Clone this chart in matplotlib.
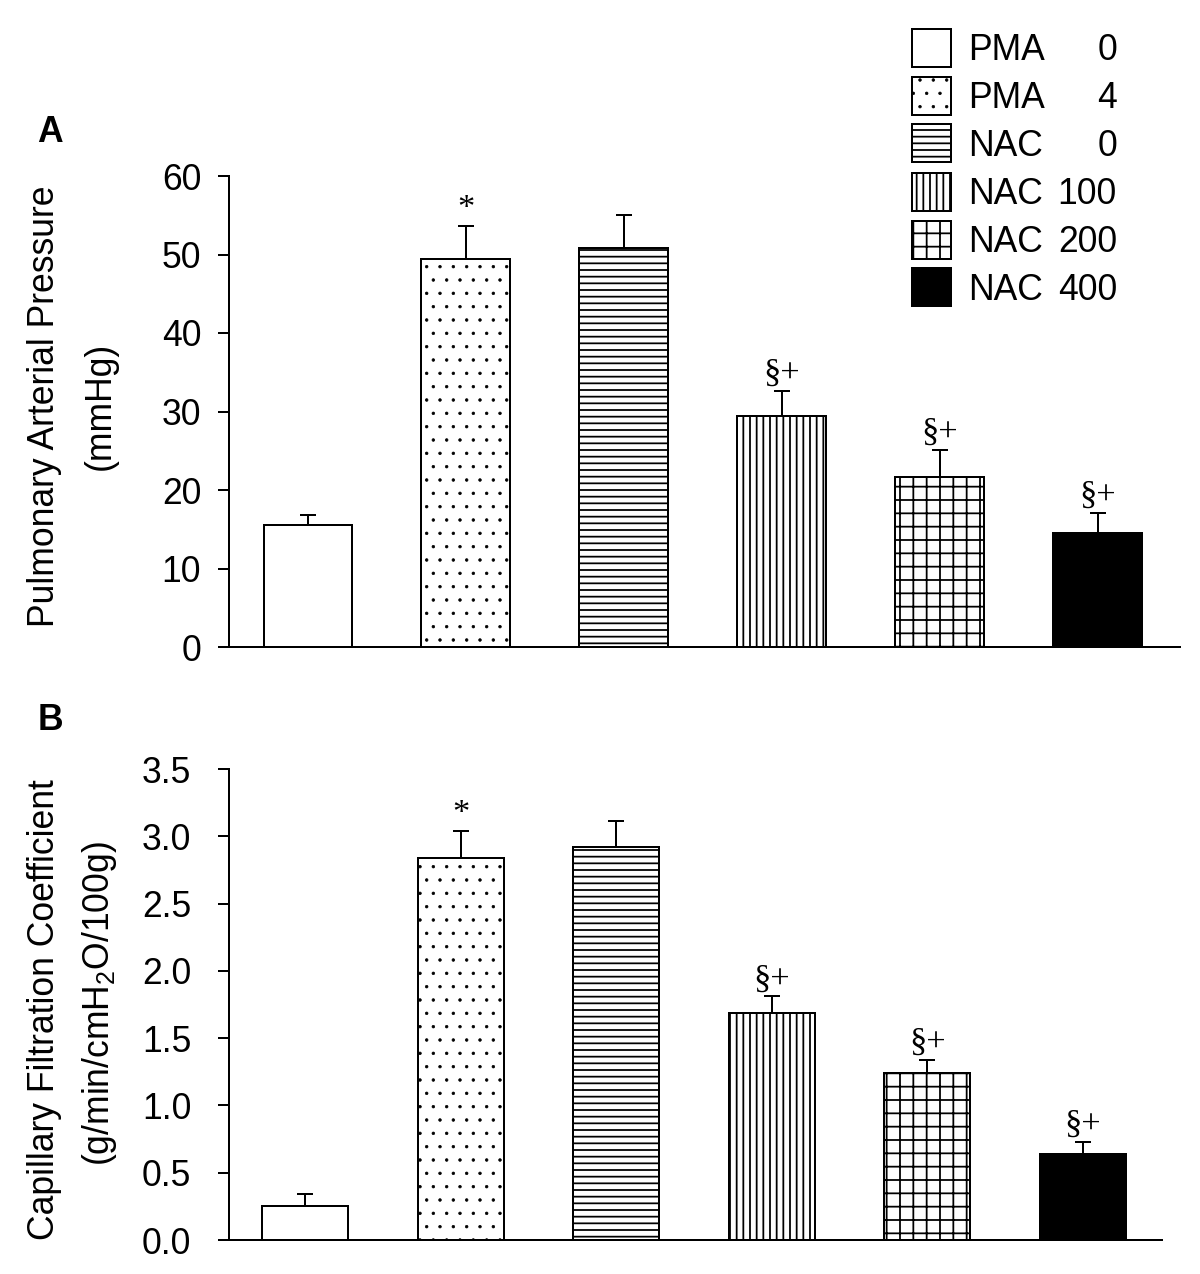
import matplotlib
matplotlib.use("Agg")
import matplotlib.pyplot as plt
from matplotlib.patches import Rectangle
import numpy as np

plt.rcParams['font.family'] = ['Liberation Sans', 'DejaVu Sans']
plt.rcParams['mathtext.fontset'] = 'custom'
plt.rcParams['mathtext.rm'] = 'Liberation Sans'
plt.rcParams['mathtext.it'] = 'Liberation Sans:italic'
plt.rcParams['hatch.linewidth'] = 1.6

# ---- data ----
groups = ["PMA", "PMA", "NAC", "NAC", "NAC", "NAC"]
doses = ["0", "4", "0", "100", "200", "400"]
pap_mean = [15.5, 49.4, 50.8, 29.4, 21.7, 14.5]
pap_sem = [1.3, 4.2, 4.2, 3.2, 3.4, 2.6]
kfc_mean = [0.25, 2.84, 2.92, 1.69, 1.24, 0.64]
kfc_sem = [0.09, 0.20, 0.19, 0.12, 0.10, 0.09]
pap_marks = ["", "*", "", "§+", "§+", "§+"]
kfc_marks = ["", "*", "", "§+", "§+", "§+"]
pap_ticks = [0, 10, 20, 30, 40, 50, 60]
kfc_ticks = [0.0, 0.5, 1.0, 1.5, 2.0, 2.5, 3.0, 3.5]

# ---- styles ----
faces = ["white", "white", "white", "white", "white", "black"]
hatches = [None, ".", "--", "||", "+", None]
hatch_lw = [1.6, 0.6, 1.6, 1.6, 1.6, 1.6]

W, H = 1200, 1274
DPI = 80
fig = plt.figure(figsize=(W / DPI, H / DPI), dpi=DPI)

FS = 32

def px_axes(l, t, r, b):
    return fig.add_axes([l / W, 1 - b / H, (r - l) / W, (b - t) / H])

axA = px_axes(229, 176, 1180, 647)
axB = px_axes(229, 769, 1162, 1240)

def set_hlw(p, lw):
    if hasattr(p, "set_hatch_linewidth"):
        p.set_hatch_linewidth(lw)

def draw_panel(ax, means, sems, marks, ticks, width, xlim, ymax, fmt, pad):
    x = np.arange(len(means))
    for i in range(len(means)):
        with plt.rc_context({"hatch.linewidth": hatch_lw[i]}):
            bars = ax.bar(x[i], means[i], width=width, facecolor=faces[i], edgecolor="black",
                          linewidth=1.8, hatch=hatches[i], zorder=2)
        for b in bars:
            set_hlw(b, hatch_lw[i])
    ax.errorbar(x, means, yerr=[np.zeros(len(means)), sems], fmt="none",
                ecolor="black", elinewidth=1.8, capsize=7.5, capthick=1.8, zorder=3)
    for i, m in enumerate(marks):
        if m:
            ax.annotate(m, (x[i], means[i] + sems[i]), xytext=(0, 9),
                        textcoords="offset pixels", ha="center", va="baseline",
                        fontsize=31, family="Liberation Serif")
    ax.set_xlim(*xlim)
    ax.set_ylim(0, ymax)
    ax.set_yticks(ticks)
    ax.set_yticklabels([fmt.format(t) for t in ticks])
    ax.set_xticks([])
    for s in ["top", "right"]:
        ax.spines[s].set_visible(False)
    for s in ["left", "bottom"]:
        ax.spines[s].set_linewidth(1.8)
    ax.tick_params(axis="y", length=10, width=1.8, labelsize=FS, pad=pad)
    ax.patch.set_visible(False)

draw_panel(axA, pap_mean, pap_sem, pap_marks, pap_ticks, 0.563, (-0.5, 5.52), 60, "{:.0f}", 15)
draw_panel(axB, kfc_mean, kfc_sem, kfc_marks, kfc_ticks, 0.553, (-0.49, 5.51), 3.5, "{:.1f}", 24)

# y labels
def ftext(xp, yp, s, **kw):
    fig.text(xp / W, 1 - yp / H, s, **kw)

ftext(45, 406, "Pulmonary Arterial Pressure", rotation=90, ha="center", va="center", fontsize=FS)
ftext(100, 406, "(mmHg)", rotation=90, ha="center", va="center", fontsize=FS)
ftext(45, 1010, "Capillary Filtration Coefficient", rotation=90, ha="center", va="center", fontsize=FS)
ftext(100, 1004, "(g/min/cmH$_2$O/100g)", rotation=90, ha="center", va="center", fontsize=FS)

# panel letters
ftext(50, 133, "A", ha="center", va="center", fontsize=32, fontweight="bold")
ftext(50, 720, "B", ha="center", va="center", fontsize=32, fontweight="bold")

# legend (manual)
row_top = [29, 77, 124, 173, 221, 268]
for i in range(len(groups)):
    t = row_top[i]
    with plt.rc_context({"hatch.linewidth": hatch_lw[i]}):
        rect = Rectangle((912 / W, 1 - (t + 38) / H), 39 / W, 38 / H, transform=fig.transFigure,
                         facecolor=faces[i], edgecolor="black", linewidth=1.8, hatch=hatches[i])
    set_hlw(rect, hatch_lw[i])
    fig.add_artist(rect)
    yc = t + 19
    ftext(968, yc + 12.5, groups[i], ha="left", va="baseline", fontsize=FS)
    ftext(1117, yc + 12.5, doses[i], ha="right", va="baseline", fontsize=FS)

fig.savefig("out.png", dpi=DPI, facecolor="white")
